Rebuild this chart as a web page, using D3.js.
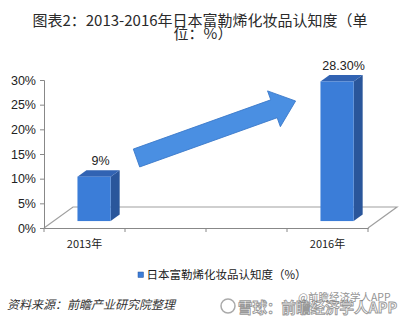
<!DOCTYPE html>
<html><head><meta charset="utf-8">
<script src="https://cdn.jsdelivr.net/npm/d3@7"></script>
<style>
html,body{margin:0;padding:0;background:#fff;}
svg{display:block;}
</style></head>
<body>
<script>
const categories = ["2013年","2014年","2015年","2016年"];
const tickLabels = ["2013年","","","2016年"];
const values = [9, null, null, 28.3];
const valueLabels = ["9%", "", "", "28.30%"];
const yTicks = [0,5,10,15,20,25,30];
const seriesName = "日本富勒烯化妆品认知度（%）";
const titleLines = ["图表2：2013-2016年日本富勒烯化妆品认知度（单","位：%）"];
const sourceText = "资料来源：前瞻产业研究院整理";

const W=400,H=322;
const svg=d3.select("body").append("svg").attr("width",W).attr("height",H);
const cjk='"Noto Sans CJK SC","Noto Sans",sans-serif';
const lat='"Liberation Sans",Arial,sans-serif';

// title
svg.append("text").attr("x",200).attr("y",25.5).attr("text-anchor","middle")
  .style("font-family",cjk).style("font-size","15px").attr("fill","#2a2a2a").text(titleLines[0]);
svg.append("text").attr("x",203).attr("y",39).attr("text-anchor","middle")
  .style("font-family",cjk).style("font-size","15px").attr("fill","#2a2a2a").text(titleLines[1]);

const x=d3.scaleBand().domain(categories).range([44,368]).padding(0);
const y=d3.scaleLinear().domain([0,30]).range([228,80]);
const DX=29, DY=-21; // full depth offset
const fFront=0.33, fBack=0.64;

// floor
const floor=[[44,228],[44+DX,228+DY],[368+DX,228+DY],[368,228]];
svg.append("path").attr("d","M"+floor.map(p=>p.join(",")).join("L"))
  .attr("fill","none").attr("stroke","#a0a0a0").attr("stroke-width",1.2);

// y axis
const ya=svg.append("g").attr("transform","translate(44,0)")
  .call(d3.axisLeft(y).tickValues(yTicks).tickFormat(d=>d+"%").tickSize(4).tickPadding(4));
ya.select(".domain").attr("stroke","#888");
ya.selectAll(".tick line").attr("stroke","#888");
ya.selectAll("text").style("font-family",lat).style("font-size","12.5px").attr("fill","#222");

// x axis
const xa=svg.append("g").attr("transform","translate(0,228)")
  .call(d3.axisBottom(x).tickSize(0).tickFormat((d,i)=>tickLabels[i]).tickPadding(12));
xa.select(".domain").attr("stroke","#888");
xa.selectAll("text").style("font-family",cjk).style("font-size","11px").attr("fill","#222");
const bounds=categories.map(c=>x(c)).concat([x.range()[1]]);
svg.append("g").selectAll("line").data(bounds).join("line")
  .attr("x1",d=>d).attr("x2",d=>d).attr("y1",228).attr("y2",232).attr("stroke","#888");

// arrow (decorative trend)
const aL=169, sh=9.5, hh=19, hl=23;
svg.append("path")
  .attr("d",`M0,${-sh}L${aL-hl},${-sh}L${aL-hl},${-hh}L${aL},0L${aL-hl},${hh}L${aL-hl},${sh}L0,${sh}Z`)
  .attr("transform","translate(136.5,158) rotate(-19.7)")
  .attr("fill","#4a8fe2").attr("stroke","#3b79c9").attr("stroke-width",0.8);

// bars
const bw=x.bandwidth()*0.41;
const data=categories.map((c,i)=>({c,v:values[i],lab:valueLabels[i]})).filter(d=>d.v!=null);
const g=svg.append("g");
data.forEach(d=>{
  const cx=x(d.c)+x.bandwidth()/2;
  const xl=cx-bw/2+fFront*DX, xr=cx+bw/2+fFront*DX;
  const yb=y(0)+fFront*DY, yt=y(d.v)+fFront*DY;
  const ox=(fBack-fFront)*DX, oy=(fBack-fFront)*DY;
  g.append("path").attr("d",`M${xr},${yt}L${xr+ox},${yt+oy}L${xr+ox},${yb+oy}L${xr},${yb}Z`).attr("fill","#2a569b");
  g.append("path").attr("d",`M${xl},${yt}L${xl+ox},${yt+oy}L${xr+ox},${yt+oy}L${xr},${yt}Z`).attr("fill","#3163b3");
  g.append("rect").attr("x",xl).attr("y",yt).attr("width",bw).attr("height",yb-yt).attr("fill","#3b7dd8");
  g.append("text").attr("x",(xl+xr)/2+ox/2+2).attr("y",y(d.v)-18.5).attr("text-anchor","middle")
    .style("font-family",lat).style("font-size","12.5px").attr("fill","#222").text(d.lab);
});

// legend
svg.append("rect").attr("x",138).attr("y",272).attr("width",5.5).attr("height",5.5).attr("fill","#3b7dd8").attr("stroke","#2a569b").attr("stroke-width",0.5);
svg.append("text").attr("x",146.5).attr("y",279).style("font-family",cjk).style("font-size","11.5px").attr("fill","#222").text(seriesName);

// source
svg.append("text").attr("x",7).attr("y",309).style("font-family",cjk).style("font-size","12px")
  .style("font-style","italic").attr("fill","#333").text(sourceText);

// watermark
svg.append("circle").attr("cx",228).attr("cy",306).attr("r",7).attr("fill","none").attr("stroke","#aaa").attr("stroke-width",1.5);
svg.append("text").attr("x",238).attr("y",313).style("font-family",cjk).style("font-size","14.5px")
  .style("font-weight","bold").attr("fill","#fff").attr("stroke","#999").attr("stroke-width",0.9).text("雪球：前瞻经济学人APP");
svg.append("text").attr("x",298).attr("y",301).style("font-family",cjk).style("font-size","10.5px")
  .attr("fill","#666").attr("opacity",0.7).text("@前瞻经济学人APP");
</script>
</body></html>
